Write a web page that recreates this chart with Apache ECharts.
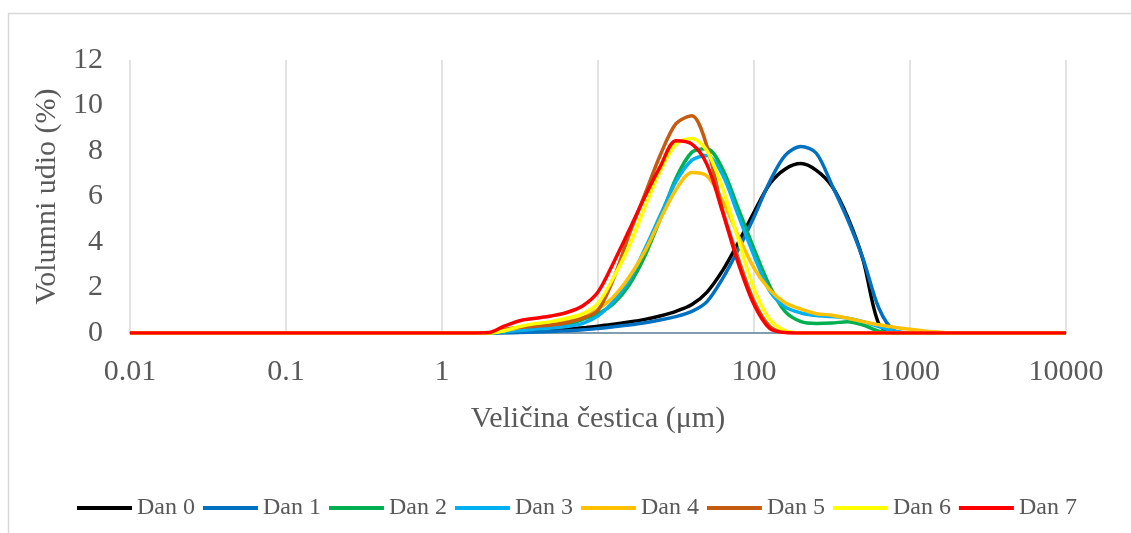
<!DOCTYPE html>
<html>
<head>
<meta charset="utf-8">
<script src="https://cdn.jsdelivr.net/npm/echarts@6/dist/echarts.min.js"></script>
<style>
  html, body { margin: 0; padding: 0; background: #fff; }
  #chart { width: 1131px; height: 533px; }
</style>
</head>
<body>
<div id="chart"></div>
<script>
// particle size (um), log scale
const sizes = [0.01, 1.5, 2, 2.5, 3.2, 4, 5, 6.3, 8, 10, 12.6, 15.8, 20, 25, 31.6, 40, 50, 63, 79, 100,
  126, 158, 200, 251, 316, 398, 501, 631, 794, 1000, 1259, 1585, 2000, 10000];

const seriesNames = ["Dan 0", "Dan 1", "Dan 2", "Dan 3", "Dan 4", "Dan 5", "Dan 6", "Dan 7"];
const colors = ["#000000", "#0070C0", "#00B050", "#00B0F0", "#FFC000", "#C55A11", "#FFFF00", "#FF0000"];

const dan0 = [0, 0, 0, 0.02, 0.06, 0.1, 0.14, 0.18, 0.23, 0.3, 0.38, 0.48, 0.6, 0.75, 0.95, 1.25, 1.8, 2.75, 3.95, 5.3,
  6.55, 7.2, 7.45, 7.15, 6.45, 5.1, 3.2, 0.4, 0, 0, 0, 0, 0, 0];
const dan1 = [0, 0, 0, 0, 0.02, 0.04, 0.07, 0.1, 0.14, 0.2, 0.27, 0.35, 0.45, 0.57, 0.72, 0.95, 1.38, 2.4, 3.65, 5.1,
  6.65, 7.8, 8.2, 7.9, 6.5, 5.0, 3.25, 1.1, 0.1, 0, 0, 0, 0, 0];
const dan2 = [0, 0, 0, 0.05, 0.15, 0.2, 0.25, 0.35, 0.6, 0.85, 1.3, 2.1, 3.4, 5.0, 6.8, 7.95, 8.1, 7.2, 5.5, 3.7,
  2.07, 0.95, 0.5, 0.42, 0.44, 0.5, 0.35, 0.08, 0, 0, 0, 0, 0, 0];
const dan3 = [0, 0, 0, 0.05, 0.12, 0.18, 0.22, 0.28, 0.42, 0.75, 1.4, 2.3, 3.7, 5.15, 6.65, 7.6, 7.8, 6.95, 5.2, 3.4,
  1.85, 1.15, 0.88, 0.77, 0.72, 0.65, 0.5, 0.28, 0.08, 0, 0, 0, 0, 0];
const dan4 = [0, 0, 0, 0.1, 0.25, 0.35, 0.42, 0.5, 0.68, 1.05, 1.6, 2.45, 3.6, 4.97, 6.3, 7.05, 6.9, 5.8, 4.3, 2.85,
  1.9, 1.33, 1.05, 0.85, 0.78, 0.65, 0.5, 0.36, 0.25, 0.16, 0.08, 0.03, 0, 0];
const dan5 = [0, 0, 0, 0.15, 0.25, 0.3, 0.35, 0.45, 0.65, 1.0, 2.4, 4.3, 6.1, 7.8, 9.2, 9.55, 8.2, 5.4, 3.3, 1.4,
  0.3, 0.03, 0, 0, 0, 0, 0, 0, 0, 0, 0, 0, 0, 0];
const dan6 = [0, 0, 0, 0.1, 0.3, 0.42, 0.5, 0.65, 0.85, 1.3, 2.45, 3.8, 5.55, 7.1, 8.3, 8.55, 8.0, 6.35, 4.15, 1.95,
  0.6, 0.1, 0, 0, 0, 0, 0, 0, 0, 0, 0, 0, 0, 0];
const dan7 = [0, 0, 0.02, 0.3, 0.55, 0.65, 0.75, 0.9, 1.2, 1.8, 3.1, 4.5, 6.0, 7.3, 8.45, 8.3, 7.4, 5.3, 3.1, 1.25,
  0.2, 0.02, 0, 0, 0, 0, 0, 0, 0, 0, 0, 0, 0, 0];
const allData = [dan0, dan1, dan2, dan3, dan4, dan5, dan6, dan7];

const font = "Liberation Serif";
const txt = "#595959";

const chart = echarts.init(document.getElementById("chart"));
const option = {
  animation: false,
  color: colors,
  textStyle: { fontFamily: font },
  graphic: [
    {
      type: "rect",
      shape: { x: 8.5, y: 13.5, width: 1300, height: 700 },
      style: { fill: "none", stroke: "#d9d9d9", lineWidth: 1.5 },
      silent: true,
    },
  ],
  grid: {
    left: 130,
    right: 65,
    top: 60,
    bottom: 200,
  },
  legend: {
    left: 72,
    top: 491,
    icon: "rect",
    itemWidth: 55,
    itemHeight: 4,
    itemGap: 8,
    data: seriesNames,
    textStyle: { fontFamily: font, fontSize: 24, color: txt },
  },
  xAxis: {
    type: "log",
    logBase: 10,
    min: 0.01,
    max: 10000,
    name: "Veličina čestica (μm)",
    nameLocation: "middle",
    nameGap: 71,
    nameTextStyle: { fontFamily: font, fontSize: 30, color: txt },
    axisLine: { show: true, lineStyle: { color: "#5a7d96", width: 1.5 } },
    axisTick: { show: false },
    axisLabel: {
      margin: 24,
      fontFamily: font,
      fontSize: 30,
      color: txt,
      formatter: function (v) {
        return String(Number(v.toPrecision(4)));
      },
    },
    splitLine: { show: true, lineStyle: { color: "#d9d9d9", width: 1.5 } },
  },
  yAxis: {
    type: "value",
    min: 0,
    max: 12,
    interval: 2,
    name: "Volumni udio (%)",
    nameLocation: "middle",
    nameGap: 65,
    nameTextStyle: { fontFamily: font, fontSize: 30, color: txt },
    axisLine: { show: false },
    axisTick: { show: false },
    axisLabel: { margin: 27, fontFamily: font, fontSize: 30, color: txt },
    splitLine: { show: false },
  },
  series: seriesNames.map((name, i) => ({
    name: name,
    type: "line",
    data: sizes.map((s, j) => [s, allData[i][j]]),
    symbol: "none",
    smooth: 0.3,
    lineStyle: { width: 3.5, color: colors[i] },
    itemStyle: { color: colors[i] },
    z: 2 + i,
  })),
};
chart.setOption(option);
</script>
</body>
</html>
